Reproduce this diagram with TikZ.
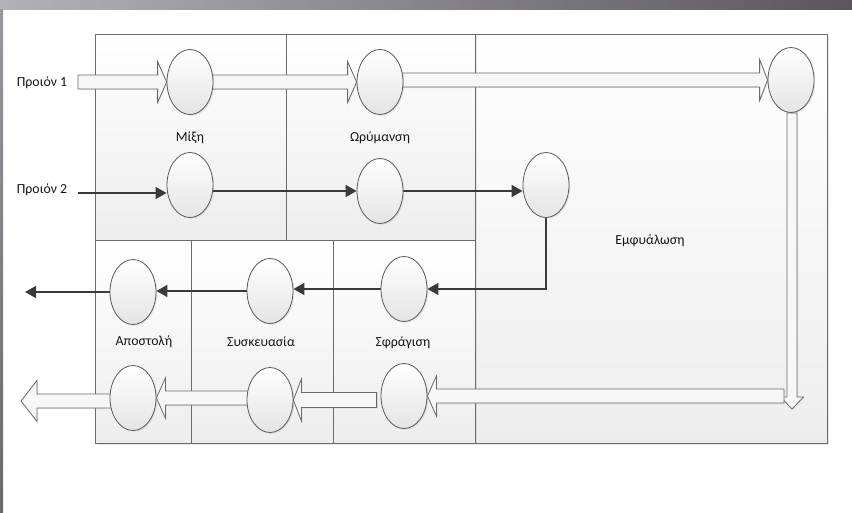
\documentclass[tikz,border=0pt]{standalone}
\usepackage{fontspec}
\setmainfont{Carlito}
\usetikzlibrary{shapes.geometric,arrows.meta,shadows,calc}
\pgfdeclarelayer{bg}
\pgfdeclarelayer{arr}
\pgfsetlayers{bg,arr,main}
\definecolor{linec}{HTML}{6B6B6B}
\definecolor{cellbot}{HTML}{EDEDED}
\definecolor{circc}{HTML}{5A5A5A}
\definecolor{circbot}{HTML}{E4E4E4}
\definecolor{txtc}{HTML}{161616}
\definecolor{flowc}{HTML}{3A3A3A}
\definecolor{blkc}{HTML}{6A6A6A}
\definecolor{blkfill}{HTML}{F7F7F7}
\definecolor{bandl}{HTML}{B4B0B8}
\definecolor{bandr}{HTML}{5A565C}
\definecolor{stript}{HTML}{9A979E}
\definecolor{stripb}{HTML}{6A676D}
\tikzset{
  cell/.style={draw=linec, line width=0.8pt, top color=white, bottom color=cellbot,
    drop shadow={opacity=0.18, shadow xshift=1.5pt, shadow yshift=-1.5pt}},
  proc/.style={ellipse, draw=circc, line width=0.8pt, minimum width=46pt, minimum height=65pt,
    inner sep=0pt, top color=white, bottom color=circbot,
    drop shadow={opacity=0.2, shadow xshift=1.2pt, shadow yshift=-1.2pt}},
  lbl/.style={font=\fontsize{13.8}{16}\selectfont, text=txtc, inner sep=1pt},
  flow/.style={draw=flowc, line width=1.5pt, -{Triangle[length=11pt,width=12pt]}},
  blk/.style={draw=blkc, line width=0.8pt, fill=blkfill, line join=miter,
    drop shadow={opacity=0.15, shadow xshift=1pt, shadow yshift=-1pt}}
}
% horizontal block arrow: #1 start, #2 tip, #3 shaft half width, #4 head half width, #5 signed offset of head back from tip
\newcommand\hblk[5]{%
  \path[blk] let \p1=(#1), \p2=(#2) in
    (\x1,\y2+#3) -- (\x2+#5,\y2+#3) -- (\x2+#5,\y2+#4) -- (\x2,\y2)
    -- (\x2+#5,\y2-#4) -- (\x2+#5,\y2-#3) -- (\x1,\y2-#3) -- cycle;}
% vertical block arrow
\newcommand\vblk[5]{%
  \path[blk] let \p1=(#1), \p2=(#2) in
    (\x2+#3,\y1) -- (\x2+#3,\y2+#5) -- (\x2+#4,\y2+#5) -- (\x2,\y2)
    -- (\x2-#4,\y2+#5) -- (\x2-#3,\y2+#5) -- (\x2-#3,\y1) -- cycle;}
\begin{document}
\begin{tikzpicture}[x=1pt,y=-1pt]
\useasboundingbox (0,0) rectangle (852,512);

% background, frame and cells
\begin{pgfonlayer}{bg}
\fill[white] (0,0) rectangle (852,512);
\shade[left color=bandl, right color=bandr] (0,0) rectangle (852,9);
\shade[top color=stript, bottom color=stripb] (0,9) rectangle (3,512);
\path[cell] (475,34) rectangle (827,443);
\path[cell] (95,34) rectangle (286,240);
\path[cell] (286,34) rectangle (475,240);
\path[cell] (95,240) rectangle (191,443);
\path[cell] (191,240) rectangle (333,443);
\path[cell] (333,240) rectangle (475,443);
\end{pgfonlayer}

% process circles
\node[proc] (m1) at (190,82) {};
\node[proc] (w1) at (380,82) {};
\node[proc] (e1) at (791,80) {};
\node[proc] (m2) at (190,185) {};
\node[proc] (w2) at (380,191) {};
\node[proc] (e2) at (546,185) {};
\node[proc] (a1) at (133,292) {};
\node[proc] (k1) at (270,291) {};
\node[proc] (s1) at (404,289) {};
\node[proc] (a2) at (133,398) {};
\node[proc] (k2) at (270,400) {};
\node[proc] (s2) at (404,396) {};

% labels
\node[lbl] (lp1) at (42,83) {Προιόν 1};
\node[lbl] (lp2) at (42,190) {Προιόν 2};
\node[lbl] (lmix) at (190,138) {Μίξη};
\node[lbl] (lwr) at (380,138) {Ωρύμανση};
\node[lbl] (lemf) at (650,241) {Εμφυάλωση};
\node[lbl] (lapo) at (144,342) {Αποστολή};
\node[lbl] (lsys) at (261,342) {Συσκευασία};
\node[lbl] (lsfr) at (403,343) {Σφράγιση};

% free ends
\coordinate (in1) at (78,83);
\coordinate (in2) at (78,193);
\coordinate (out1) at (25,292);
\coordinate (out2) at (21,401);
\coordinate (v1) at (792,409);
\coordinate (b1) at (784,396);

\begin{pgfonlayer}{arr}
% hollow block arrows
\hblk{in1}{m1.west}{7pt}{20.5pt}{-9pt}
\hblk{m1}{w1.west}{7pt}{20.5pt}{-9pt}
\hblk{w1}{e1.west}{7pt}{20.5pt}{-8pt}
\vblk{e1.south}{v1}{5pt}{11.5pt}{12pt}
\hblk{b1}{s2.east}{7pt}{20pt}{9pt}
\hblk{$(s2.west)+(-4,0)$}{k2.east}{7.5pt}{21pt}{8pt}
\hblk{k2}{a2.east}{7pt}{20pt}{9pt}
\hblk{a2}{out2}{7pt}{20.5pt}{16pt}
% solid flow arrows
\draw[flow] (in2) -- (in2 -| m2.west);
\draw[flow] (m2.east |- w2) -- (w2.west);
\draw[flow] (w2.east) -- (w2.east -| e2.west);
\draw[flow] (e2.south) |- (s1.east);
\draw[flow] (s1.west) -- (s1.west -| k1.east);
\draw[flow] (k1.west) -- (k1.west -| a1.east);
\draw[flow] (a1.west) -- (out1);
\end{pgfonlayer}
\end{tikzpicture}
\end{document}
